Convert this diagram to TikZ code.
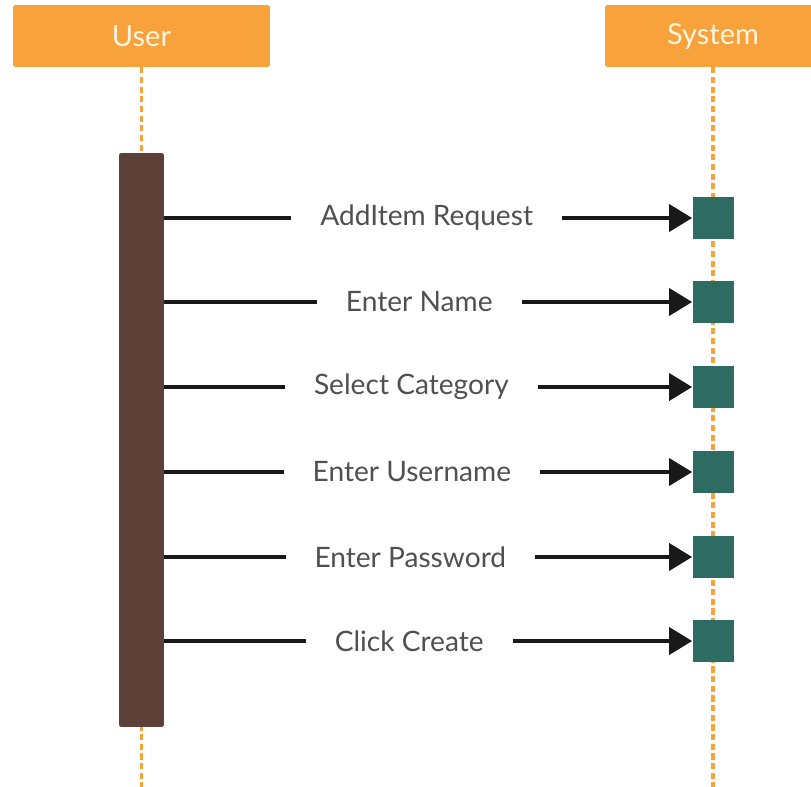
\documentclass[tikz,border=0pt]{standalone}
\usepackage{fontspec}
\setmainfont{Lato}
\usetikzlibrary{arrows.meta,positioning}
\definecolor{hdrorange}{HTML}{F7A23B}
\definecolor{hdrtext}{HTML}{FFF4E0}
\definecolor{barbrown}{HTML}{5D4037}
\definecolor{boxteal}{HTML}{2E6B62}
\definecolor{msgtext}{HTML}{505050}
\tikzset{
  header/.style={fill=hdrorange,rounded corners=1pt,minimum width=5.14cm,minimum height=1.24cm,
    text=hdrtext,font=\fontsize{16.5}{19}\selectfont},
  lifeline/.style={hdrorange,line width=1.9pt,dash pattern=on 3.5pt off 2pt},
  actbar/.style={fill=barbrown,rounded corners=1pt,minimum width=0.9cm,minimum height=11.48cm,inner sep=0pt},
  sysbox/.style={fill=boxteal,minimum width=0.82cm,minimum height=0.84cm,inner sep=0pt},
  msg/.style={line width=2.1pt,black!90,-{Triangle[length=0.46cm,width=0.54cm]}},
  lbl/.style={fill=white,text=msgtext,inner xsep=0.58cm,inner ysep=2pt,font=\fontsize{16}{19}\selectfont}
}
\begin{document}
\begin{tikzpicture}[x=0.02cm,y=-0.02cm]
\useasboundingbox (0,0) rectangle (811,787);
% heads
\node[header] (user) at (141.5,36) {User};
\node[header,minimum width=4.32cm] (system) at (713,36) {System};
\coordinate (userend) at (141.5,787);
\coordinate (sysend) at (713,787);
\draw[lifeline] (user.south) -- (userend);
\draw[lifeline] (system.south) -- (sysend);
% activation
\node[actbar] (act) at (141.5,440) {};
\node[sysbox] (s1) at (713,218) {};
\node[sysbox] (s2) at (713,302) {};
\node[sysbox] (s3) at (713,387) {};
\node[sysbox] (s4) at (713,472) {};
\node[sysbox] (s5) at (713,557) {};
\node[sysbox] (s6) at (713,641) {};
% messages
\draw[msg] (act.east |- s1) -- node[lbl,pos=.497] (m1) {AddItem Request} (s1.west);
\draw[msg] (act.east |- s2) -- node[lbl,pos=.483] (m2) {Enter Name} (s2.west);
\draw[msg] (act.east |- s3) -- node[lbl,pos=.468] (m3) {Select Category} (s3.west);
\draw[msg] (act.east |- s4) -- node[lbl,pos=.469] (m4) {Enter Username} (s4.west);
\draw[msg] (act.east |- s5) -- node[lbl,pos=.466] (m5) {Enter Password} (s5.west);
\draw[msg] (act.east |- s6) -- node[lbl,pos=.464] (m6) {Click Create} (s6.west);
\end{tikzpicture}
\end{document}
